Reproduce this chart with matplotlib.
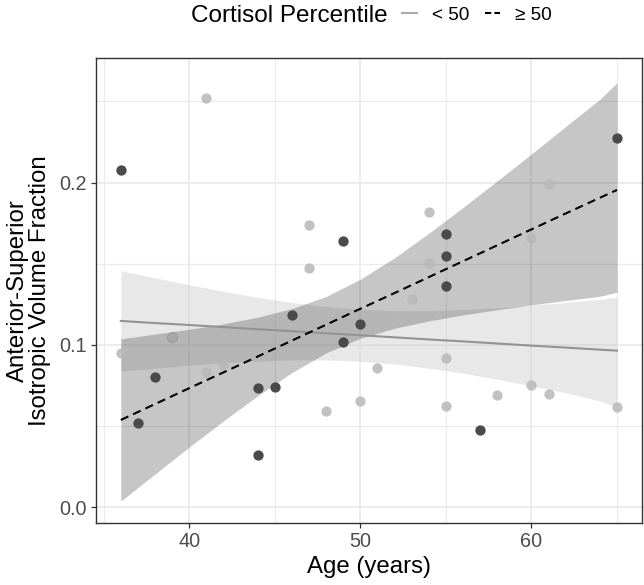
import matplotlib
matplotlib.use("Agg")
import matplotlib.pyplot as plt
from matplotlib.lines import Line2D

plt.rcParams["font.family"] = ["Liberation Sans", "DejaVu Sans"]

# points, cortisol < 50 percentile
age_low = [36, 39, 41, 41, 42, 47, 47, 48, 50, 51, 52, 53, 54, 54, 55, 55, 58, 60, 60, 61, 61, 65]
frac_low = [0.0949, 0.1050, 0.2524, 0.0834, 0.0877, 0.1741, 0.1476, 0.0595, 0.0657, 0.0858, 0.1155,
            0.1283, 0.1817, 0.1503, 0.0918, 0.0626, 0.0690, 0.1661, 0.0754, 0.1994, 0.0700, 0.0620]

# points, cortisol >= 50 percentile
age_high = [36, 37, 38, 39, 44, 44, 45, 46, 49, 49, 50, 55, 55, 55, 57, 65]
frac_high = [0.2080, 0.0519, 0.0805, 0.1050, 0.0733, 0.0324, 0.0743, 0.1183, 0.1640, 0.1019,
             0.1127, 0.1682, 0.1550, 0.1365, 0.0476, 0.2273]

# fitted lines and 95% bands
fit_age = [36, 38, 40, 42, 44, 46, 48, 50, 52, 54, 56, 58, 60, 62, 64, 65]
fit_low = [0.1148, 0.1135, 0.1123, 0.1110, 0.1097, 0.1085, 0.1072, 0.1060,
           0.1047, 0.1034, 0.1022, 0.1009, 0.0996, 0.0984, 0.0971, 0.0965]
band_low_lo = [0.0838, 0.0857, 0.0875, 0.0890, 0.0901, 0.0908, 0.0908, 0.0900,
               0.0883, 0.0857, 0.0826, 0.0789, 0.0748, 0.0706, 0.0655, 0.0615]
band_low_hi = [0.1458, 0.1413, 0.1371, 0.1330, 0.1293, 0.1262, 0.1236, 0.1220,
               0.1211, 0.1211, 0.1218, 0.1229, 0.1244, 0.1262, 0.1281, 0.1295]
fit_high = [0.0538, 0.0636, 0.0734, 0.0831, 0.0929, 0.1027, 0.1125, 0.1223,
            0.1320, 0.1418, 0.1516, 0.1614, 0.1712, 0.1810, 0.1907, 0.1955]
band_high_lo = [0.0038, 0.0205, 0.0371, 0.0532, 0.0687, 0.0830, 0.0951, 0.1041,
                0.1103, 0.1148, 0.1185, 0.1217, 0.1247, 0.1274, 0.1300, 0.1325]
band_high_hi = [0.1038, 0.1067, 0.1097, 0.1130, 0.1171, 0.1224, 0.1299, 0.1405,
                0.1537, 0.1688, 0.1847, 0.2011, 0.2177, 0.2346, 0.2514, 0.2615]

fig = plt.figure(figsize=(6.44, 5.85), dpi=100)
ax = fig.add_axes([96 / 644, 1 - 522.7 / 585, (641.8 - 96) / 644, (522.7 - 58) / 585])

ax.fill_between(fit_age, band_low_lo, band_low_hi, color="#cccccc", alpha=0.45, lw=0, zorder=1)
ax.fill_between(fit_age, band_high_lo, band_high_hi, color="#333333", alpha=0.28, lw=0, zorder=1.1)

ax.scatter(age_high, frac_high, s=55, color="#4a4a4a", lw=0, zorder=3)
ax.scatter(age_low, frac_low, s=55, color="#b8b8b8", alpha=0.85, lw=0, zorder=3.1)

ax.plot(fit_age, fit_low, color="#939393", lw=1.5, zorder=4)
ax.plot(fit_age, fit_high, color="black", lw=1.5, ls=(0, (4, 2.5)), zorder=4)

ax.set_xlim(34.55, 66.45)
ax.set_ylim(-0.0095, 0.2768)
ax.set_xticks([40, 50, 60])
ax.set_xticks([35, 45, 55, 65], minor=True)
ax.set_yticks([0.0, 0.1, 0.2])
ax.set_yticks([0.05, 0.15, 0.25], minor=True)
ax.set_yticklabels(["0.0", "0.1", "0.2"])
ax.grid(which="major", color="#ebebeb", lw=1.3, zorder=0)
ax.grid(which="minor", color="#ebebeb", lw=0.8, zorder=0)
ax.set_axisbelow(True)
ax.tick_params(which="major", length=3.5, width=0.9, color="#333333",
               labelsize=14.3, labelcolor="#4d4d4d", pad=3)
ax.tick_params(which="minor", length=0)
for sp in ax.spines.values():
    sp.set_color("#333333")
    sp.set_linewidth(1.0)

ax.set_xlabel("Age (years)", fontsize=17.3, labelpad=4)
ax.set_ylabel("Anterior-Superior\nIsotropic Volume Fraction", fontsize=17.3,
              labelpad=6, linespacing=1.0)

# legend on top, ggplot style
fig.text(388 / 644, 1 - 15.5 / 585, "Cortisol Percentile", ha="right", va="center", fontsize=17.5)
handles = [Line2D([], [], color="#aaaaaa", lw=1.5),
           Line2D([], [], color="black", lw=1.5, ls=(0, (3, 1.5)))]
fig.legend(handles, ["< 50", "≥ 50"], loc="center left", bbox_to_anchor=(402 / 644, 1 - 15.5 / 585),
           ncol=2, frameon=False, fontsize=13.7, handlelength=0.8, handletextpad=0.8,
           columnspacing=0.8, borderpad=0, borderaxespad=0)

fig.savefig("out.png", dpi=100)
